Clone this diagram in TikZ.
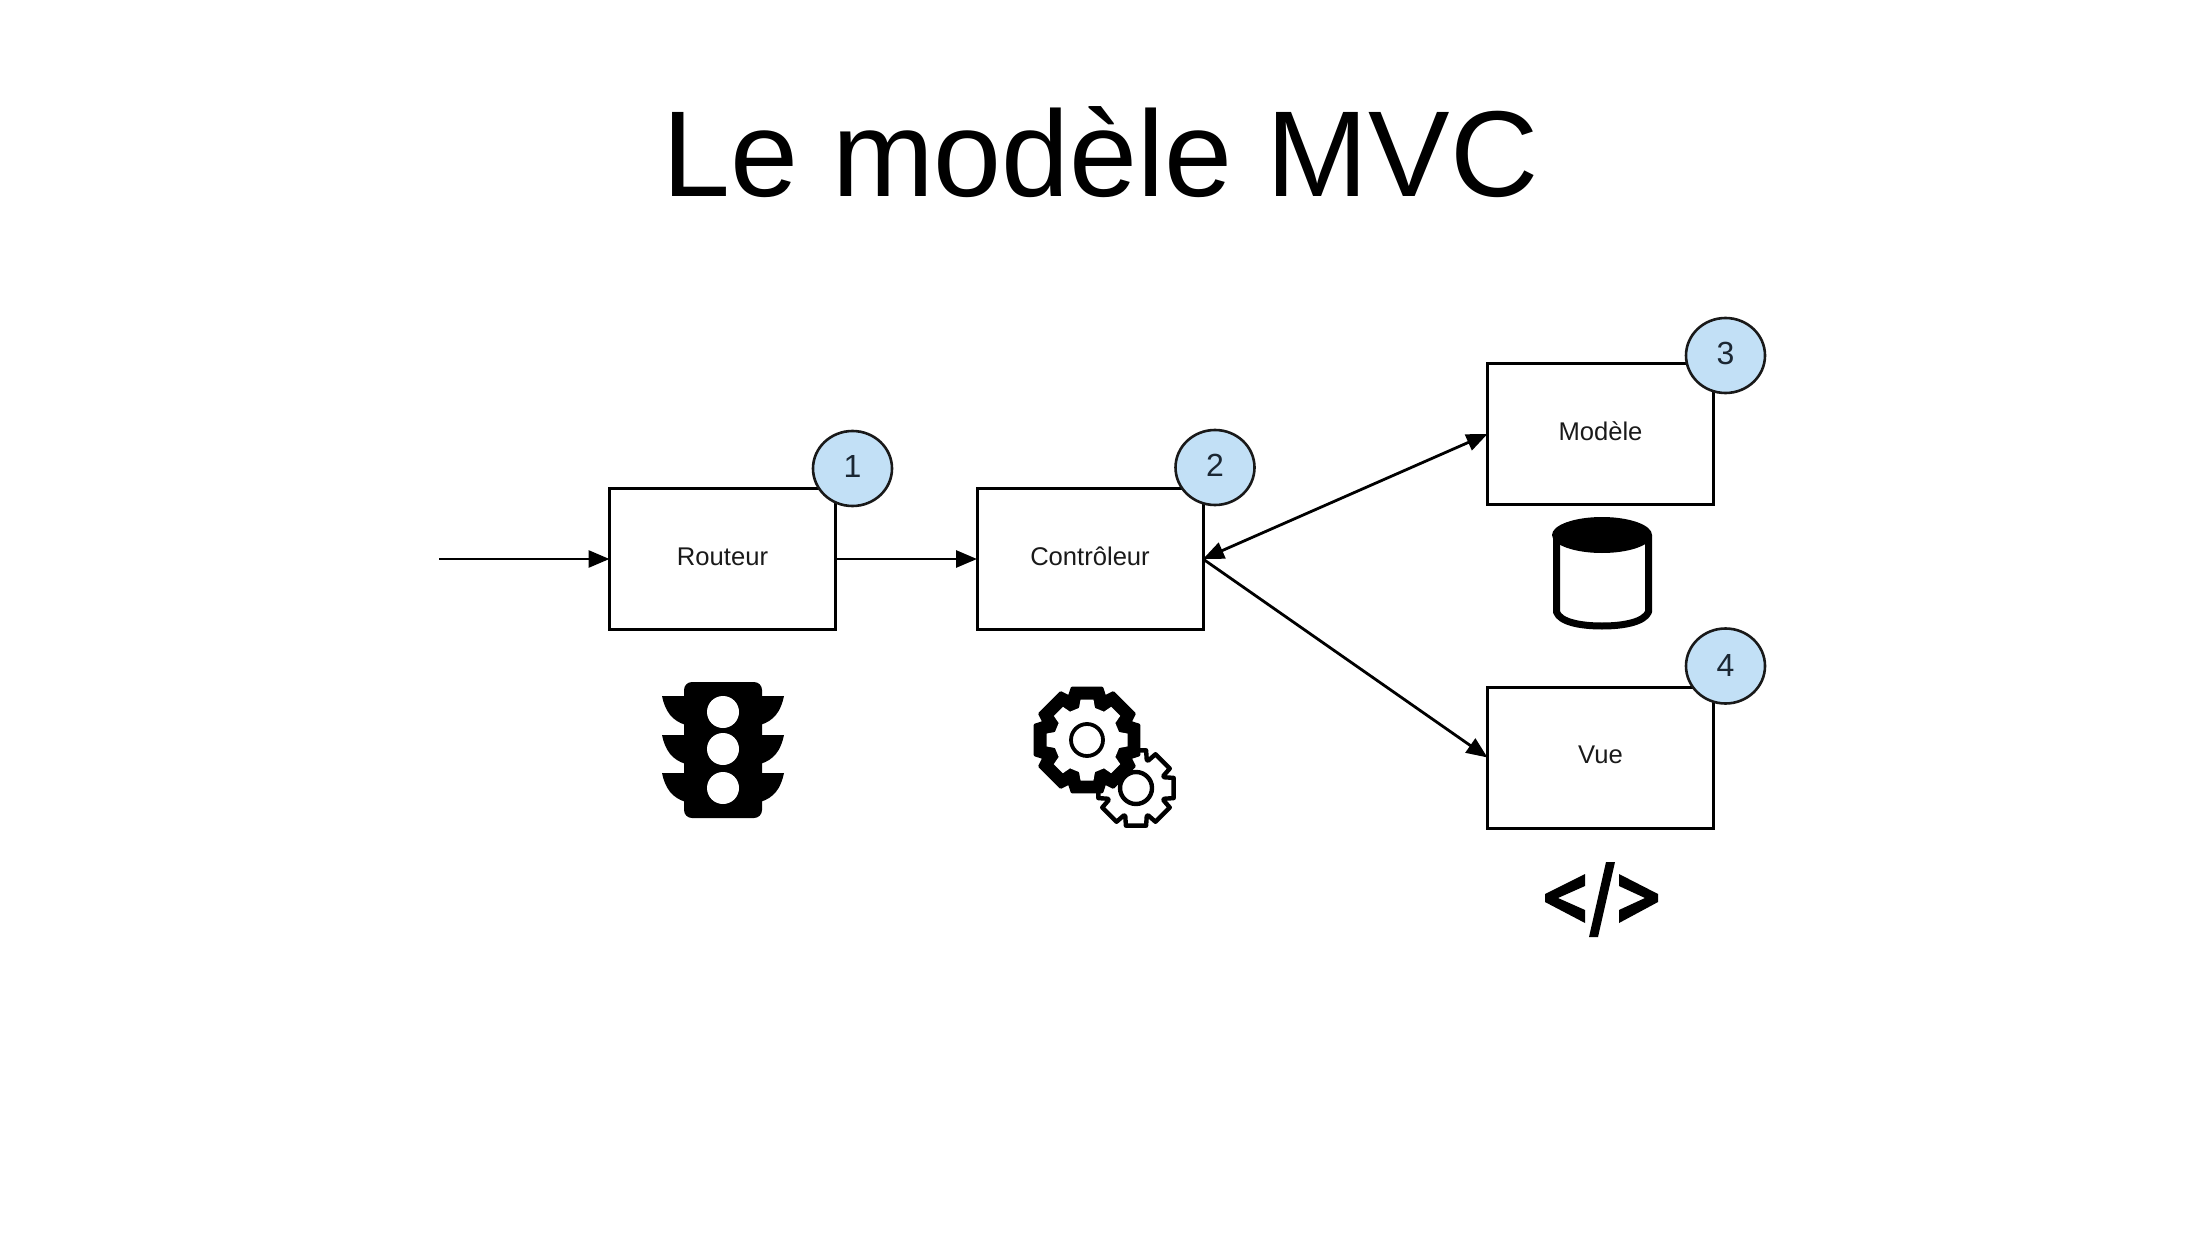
\documentclass[tikz,border=0pt]{standalone}
\usepackage{fontspec}
\setmainfont{Liberation Sans}
\usetikzlibrary{arrows.meta,shapes.geometric}
\definecolor{badgeblue}{HTML}{C2E0F6}
\definecolor{badgeink}{HTML}{1B2733}
\definecolor{labelink}{HTML}{1A1A1A}
\newcommand\gearfill[5]{\path[#1] (-#5:#4) \foreach \a in {0,45,...,315}{ -- ({\a-#5}:#4) -- ({\a-#3}:#2) -- ({\a+#3}:#2) -- ({\a+#5}:#4)} -- cycle;}
\tikzset{
  stagebox/.style={draw=black,fill=white,line width=1.5pt,minimum width=113pt,minimum height=70.5pt,inner sep=0pt,outer sep=0pt,font=\fontsize{12.8}{15}\selectfont,text=labelink},
  badge/.style={ellipse,draw=black!90,fill=badgeblue,line width=1.3pt,minimum width=39.5pt,minimum height=37.5pt,inner sep=0pt,outer sep=0pt,font=\fontsize{16}{19}\selectfont,text=badgeink},
  flow/.style={line width=1.4pt,-{Triangle[length=10.5pt,width=8.5pt]}},
  flowboth/.style={line width=1.4pt,{Triangle[length=10.5pt,width=8.5pt]}-{Triangle[length=10.5pt,width=8.5pt]}},
  headline/.style={font=\fontsize{61.1}{70}\selectfont,text=black,inner sep=0pt}
}
\begin{document}
\begin{tikzpicture}[x=0.5pt,y=-0.5pt]
\useasboundingbox[fill=white] (0,0) rectangle (2205,1241);
\node[headline,anchor=base] (title) at (1100.5,197) {Le modèle MVC};

\node[stagebox] (routeur) at (722.5,559) {\raisebox{2.6pt}{Routeur}};
\node[stagebox] (controleur) at (1090,559) {\raisebox{2.6pt}{Contrôleur}};
\node[stagebox] (modele) at (1600.5,434) {\raisebox{2.6pt}{Modèle}};
\node[stagebox] (vue) at (1600.5,757.5) {\raisebox{2.6pt}{Vue}};

\node[badge] (b1) at (852.5,468.5) {\raisebox{2.2pt}{1}};
\node[badge] (b2) at (1215,467.5) {\raisebox{2.2pt}{2}};
\node[badge] (b3) at (1725.5,355.5) {\raisebox{2.2pt}{3}};
\node[badge] (b4) at (1725.5,666) {\raisebox{1pt}{4}};

\coordinate (entree) at (439,559);
\draw[flow] (entree) -- (routeur.west);
\draw[flow] (routeur.east) -- (controleur.west);
\draw[flowboth] (controleur.east) -- (modele.west);
\draw[flow] (controleur.east) -- (vue.west);

% traffic light
\fill[black,rounded corners=4pt] (684,682) rectangle (762,818);
\foreach \t in {696,735,773}{
  \fill[black] (686,\t) -- (662,\t) .. controls (665,{\t+15}) and (672,{\t+25}) .. (686,{\t+29}) -- cycle;
  \fill[black] (760,\t) -- (784,\t) .. controls (781,{\t+15}) and (774,{\t+25}) .. (760,{\t+29}) -- cycle;
}
\fill[white] (723,712) circle[radius=16];
\fill[white] (723,749) circle[radius=16];
\fill[white] (723,788) circle[radius=16];

% gears
\begin{scope}[shift={(1136,788)}]
  \gearfill{draw=black,fill=white,line width=2.2pt,line join=round}{39}{15}{30}{21}
  \draw[black,line width=2.2pt] (0,0) circle[radius=16];
\end{scope}
\begin{scope}[shift={(1087,740)}]
  \gearfill{fill=black,draw=black,line width=1.5pt,line join=round}{54}{16}{47}{22}
  \gearfill{fill=white}{41}{9}{33}{14}
  \draw[black,line width=1.9pt] (0,0) circle[radius=16];
\end{scope}

% database
\draw[black,line width=3.5pt,line join=round] (1556.5,535) -- (1556.5,612) .. controls (1560,622) and (1580,626) .. (1602,626) .. controls (1624,626) and (1644,622) .. (1648.5,612) -- (1648.5,535);
\fill[black] (1602,535) ellipse[x radius=50,y radius=18];

% code
\fill[black] (1585,874) -- (1545,894) -- (1545,902) -- (1585,923) -- (1585,910) -- (1558,898) -- (1585,886) -- cycle;
\fill[black] (1619,874) -- (1658,894) -- (1658,902) -- (1619,923) -- (1619,910) -- (1645,898) -- (1619,886) -- cycle;
\fill[black] (1606,862) -- (1615,862) -- (1598,937) -- (1589,937) -- cycle;
\end{tikzpicture}
\end{document}
